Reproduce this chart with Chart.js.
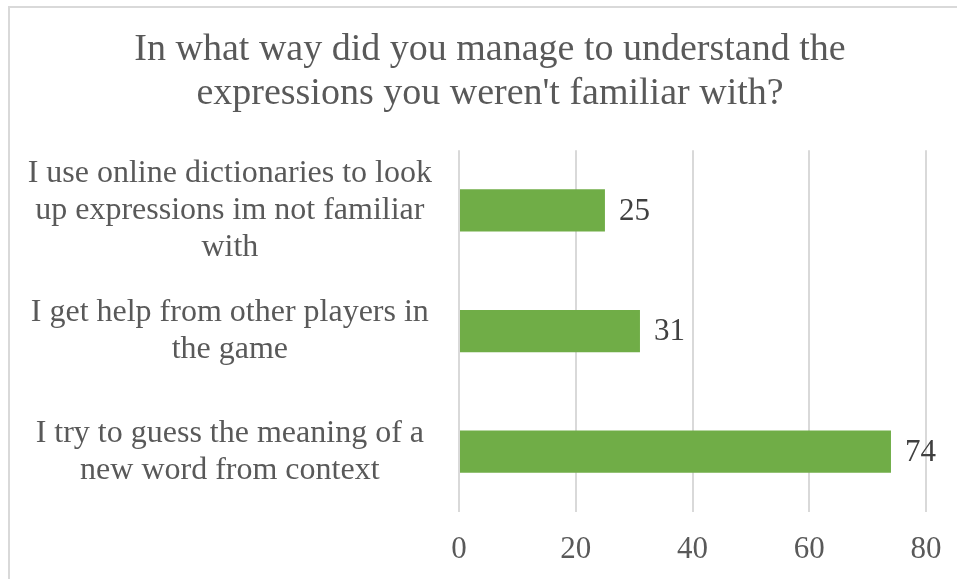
<!DOCTYPE html>
<html>
<head>
<meta charset="utf-8">
<script src="https://cdn.jsdelivr.net/npm/chart.js@4"></script>
<style>
  html, body { margin: 0; padding: 0; background: #fff; overflow: hidden; width: 957px; height: 579px; }
  #frame { position: absolute; left: 8px; top: 6px; width: 962px; height: 580px;
           border-top: 2px solid #d9d9d9; border-left: 2px solid #d9d9d9; background: #fff; }
  #wrap { position: absolute; left: 0; top: 0; width: 960px; height: 571px; }
</style>
</head>
<body>
<div id="frame"><div id="wrap"><canvas id="c"></canvas></div></div>
<script>
const titleLines = ["In what way did you manage to understand the", "expressions you weren't familiar with?"];
const categories = [
  ["I use online dictionaries to look", "up expressions im not familiar", "with"],
  ["I get help from other players in", "the game"],
  ["I try to guess the meaning of a", "new word from context"]
];
const values = [25, 31, 74];
const tickValues = [0, 20, 40, 60, 80];

const FONT = "'Liberation Serif', 'Times New Roman', serif";

const dataLabels = {
  id: 'dataLabels',
  afterDatasetsDraw(chart) {
    const ctx = chart.ctx;
    const meta = chart.getDatasetMeta(0);
    ctx.save();
    ctx.font = "31px " + FONT;
    ctx.fillStyle = '#404040';
    ctx.textAlign = 'left';
    ctx.textBaseline = 'middle';
    meta.data.forEach((bar, i) => {
      ctx.fillText(String(chart.data.datasets[0].data[i]), bar.x + 14, bar.y + 1);
    });
    ctx.restore();
  }
};

new Chart(document.getElementById('c'), {
  type: 'bar',
  data: {
    labels: categories,
    datasets: [{
      data: values,
      backgroundColor: '#70AD47',
      borderWidth: 0,
      barPercentage: 0.35,
      categoryPercentage: 1
    }]
  },
  plugins: [dataLabels],
  options: {
    indexAxis: 'y',
    responsive: true,
    maintainAspectRatio: false,
    animation: false,
    layout: { padding: 0 },
    plugins: {
      legend: { display: false },
      tooltip: { enabled: false },
      title: {
        display: true,
        text: titleLines,
        color: '#595959',
        font: { family: FONT, size: 38, weight: 'normal', lineHeight: 1.16 },
        padding: { top: 20, bottom: 34 }
      }
    },
    scales: {
      x: {
        position: 'bottom',
        min: 0,
        max: 80,
        afterBuildTicks(scale) { scale.ticks = tickValues.map(v => ({ value: v })); },
        afterFit(scale) { scale.height = 67; scale.paddingLeft = 0; scale.paddingRight = 44; },
        grid: { color: '#d9d9d9', lineWidth: 2, drawTicks: false },
        border: { display: false },
        ticks: { color: '#595959', font: { family: FONT, size: 31 }, padding: 19 }
      },
      y: {
        afterFit(scale) { scale.width = 449; scale.paddingTop = 0; scale.paddingBottom = 0; },
        grid: { display: false, drawTicks: false },
        border: { display: false },
        ticks: {
          color: '#595959',
          crossAlign: 'center',
          padding: 27,
          font: { family: FONT, size: 32, lineHeight: 1.16 }
        }
      }
    }
  }
});
</script>
</body>
</html>
